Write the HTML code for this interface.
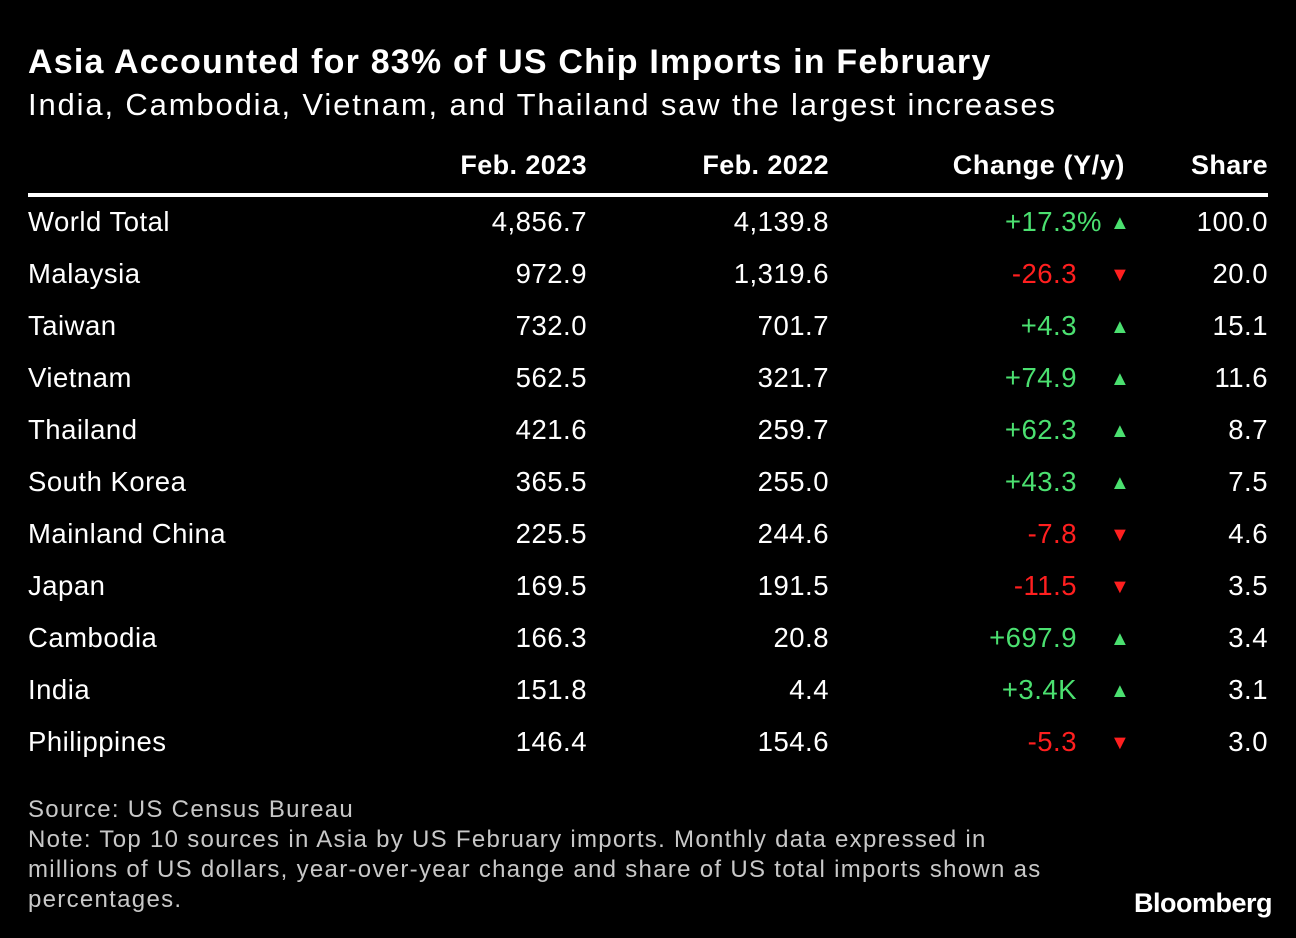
<!DOCTYPE html>
<html><head><meta charset="utf-8"><style>
body{margin:0;width:1296px;height:938px;background:#000;overflow:hidden;font-family:"Liberation Sans",Arial,sans-serif;color:#fff;position:relative}
.a{position:absolute;white-space:nowrap;line-height:1}
.r{text-align:right}
</style></head><body>
<div class="a" style="left:28px;top:45px;font-size:34px;font-weight:bold;letter-spacing:1.2px">Asia Accounted for 83% of US Chip Imports in February</div>
<div class="a" style="left:28px;top:89px;font-size:31px;letter-spacing:1.85px">India, Cambodia, Vietnam, and Thailand saw the largest increases</div>
<div class="a r" style="right:709px;top:152px;font-size:27px;font-weight:bold;letter-spacing:0.4px">Feb. 2023</div>
<div class="a r" style="right:467px;top:152px;font-size:27px;font-weight:bold;letter-spacing:0.4px">Feb. 2022</div>
<div class="a r" style="right:171px;top:152px;font-size:27px;font-weight:bold;letter-spacing:0.6px">Change (Y/y)</div>
<div class="a r" style="right:28px;top:152px;font-size:27px;font-weight:bold;letter-spacing:0.4px">Share</div>
<div class="a" style="left:28px;top:193px;width:1240px;height:4px;background:#fff"></div>
<div id="rows"></div>
<div class="a" style="left:28px;top:795px;font-size:24px;color:#c8c8c8;line-height:30px;white-space:nowrap;letter-spacing:1.3px">Source: US Census Bureau<br>Note: Top 10 sources in Asia by US February imports. Monthly data expressed in<br>millions of US dollars, year-over-year change and share of US total imports shown as<br>percentages.</div>
<div class="a r" style="right:24px;top:890px;font-size:27px;font-weight:bold;letter-spacing:-0.5px">Bloomberg</div>
<script>
const countries=["World Total","Malaysia","Taiwan","Vietnam","Thailand","South Korea","Mainland China","Japan","Cambodia","India","Philippines"];
const feb2023=["4,856.7","972.9","732.0","562.5","421.6","365.5","225.5","169.5","166.3","151.8","146.4"];
const feb2022=["4,139.8","1,319.6","701.7","321.7","259.7","255.0","244.6","191.5","20.8","4.4","154.6"];
const changes=["+17.3%","-26.3","+4.3","+74.9","+62.3","+43.3","-7.8","-11.5","+697.9","+3.4K","-5.3"];
const shares=["100.0","20.0","15.1","11.6","8.7","7.5","4.6","3.5","3.4","3.1","3.0"];
const root=document.getElementById('rows');
function cell(txt,style,name){const d=document.createElement('div');d.className='a';d.textContent=txt;d.style.cssText=style;


root.appendChild(d);return d;}
countries.forEach((c,i)=>{
 const top=208+i*52;
 const base='top:'+top+'px;font-size:27.5px;letter-spacing:0.5px;';
 cell(c,base+'left:28px;','country-label');
 cell(feb2023[i],base+'right:709px;text-align:right;','value-feb-2023');
 cell(feb2022[i],base+'right:467px;text-align:right;','value-feb-2022');
 const up=changes[i][0]==='+';
 const col=up?'#4be070':'#ff1f1f';
 const pct=changes[i].endsWith('%');
 cell(changes[i],base+'right:'+(pct?194:219)+'px;text-align:right;color:'+col+';','change-value');
 cell(up?'▲':'▼','top:'+(top+5)+'px;font-size:20px;left:1110px;color:'+col+';','change-arrow');
 cell(shares[i],base+'right:28px;text-align:right;','share-value');
});
</script>
</body></html>
